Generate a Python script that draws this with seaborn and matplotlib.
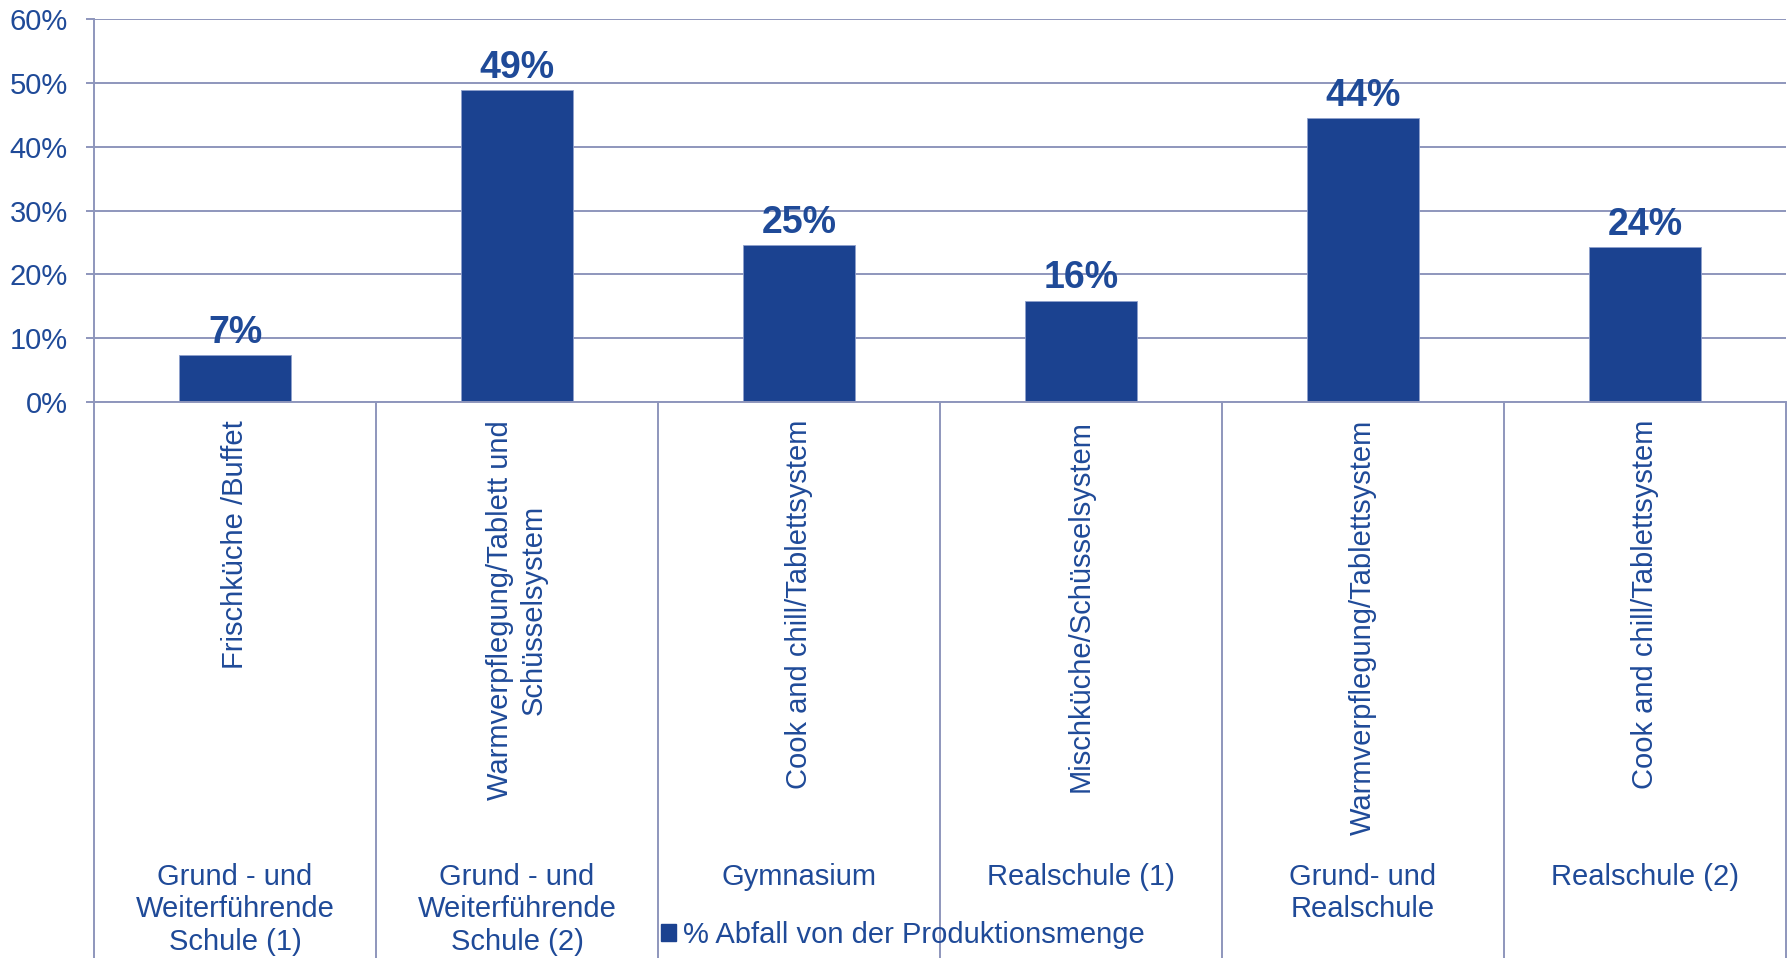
import pandas as pd
import matplotlib
matplotlib.use("Agg")
import matplotlib.pyplot as plt
from matplotlib.patches import Patch
from matplotlib.ticker import FixedLocator, PercentFormatter
import seaborn as sns

# Data
schulen = [
    "Grund - und\nWeiterführende\nSchule (1)",
    "Grund - und\nWeiterführende\nSchule (2)",
    "Gymnasium",
    "Realschule (1)",
    "Grund- und\nRealschule",
    "Realschule (2)",
]
systeme = [
    "Frischküche /Buffet",
    "Warmverpflegung/Tablett und\nSchüsselsystem",
    "Cook and chill/Tablettsystem",
    "Mischküche/Schüsselsystem",
    "Warmverpflegung/Tablettsystem",
    "Cook and chill/Tablettsystem",
]
abfall = [0.074, 0.488, 0.246, 0.159, 0.445, 0.243]
wert_labels = ["7%", "49%", "25%", "16%", "44%", "24%"]
legend_label = "% Abfall von der Produktionsmenge"

df = pd.DataFrame({"Schule": schulen, "Abfall": abfall})

bar_color = "#1B4290"
text_color = "#1F4A98"
line_color = "#8E96BC"

sns.set_style("white")
plt.rcParams["font.family"] = ["Liberation Sans", "DejaVu Sans"]

fig = plt.figure(figsize=(17.88, 9.58), dpi=100)
ax = fig.add_axes([94 / 1788, (958 - 402) / 958, (1786 - 94) / 1788, (402 - 19) / 958])

sns.barplot(data=df, x="Schule", y="Abfall", color=bar_color, width=0.4,
            edgecolor="#8FA0CC", linewidth=0.6, saturation=1, ax=ax)

ax.set_xlim(-0.5, len(schulen) - 0.5)
ax.set_ylim(0, 0.6)
ax.set_xlabel("")
ax.set_ylabel("")

# y axis
ax.yaxis.set_major_locator(FixedLocator([i / 10 for i in range(7)]))
ax.yaxis.set_major_formatter(PercentFormatter(1.0, decimals=0))
ax.tick_params(axis="y", which="major", left=True, length=5.8, width=1.4,
               color=line_color, pad=13, labelsize=21, labelcolor=text_color)
ax.set_axisbelow(True)
ax.yaxis.grid(True, color=line_color, linewidth=1.4)
ax.xaxis.grid(False)

# x axis: rotated system labels, long minor ticks as table separators
ax.set_xticks(range(len(systeme)))
ax.set_xticklabels(systeme, rotation=90, va="top", ha="center",
                   multialignment="center", linespacing=1.25)
ax.tick_params(axis="x", which="major", bottom=True, length=0, pad=13, labelsize=21,
               labelcolor=text_color)
ax.xaxis.set_minor_locator(FixedLocator([i - 0.5 for i in range(len(systeme) + 1)]))
ax.tick_params(axis="x", which="minor", bottom=True, length=402, width=1.4,
               color=line_color)

for side in ["top", "right"]:
    ax.spines[side].set_visible(False)
for side in ["left", "bottom"]:
    ax.spines[side].set_color(line_color)
    ax.spines[side].set_linewidth(1.4)

# school labels in the lower table row
for i, s in enumerate(schulen):
    ax.text(i, -1.203, s, transform=ax.get_xaxis_transform(), ha="center", va="top",
            multialignment="center", fontsize=21, color=text_color, linespacing=1.2,
            clip_on=False)

# value labels
ax.bar_label(ax.containers[0], labels=wert_labels, padding=3, fontsize=27,
             fontweight="bold", color=text_color)

fig.legend(handles=[Patch(facecolor=bar_color, edgecolor=bar_color, label=legend_label)],
           loc="center", bbox_to_anchor=(0.505, 0.024), frameon=False, fontsize=21,
           handlelength=0.5, handleheight=0.5, handletextpad=0.25, borderpad=0,
           labelcolor=text_color)

fig.savefig("out.png", dpi=100)
